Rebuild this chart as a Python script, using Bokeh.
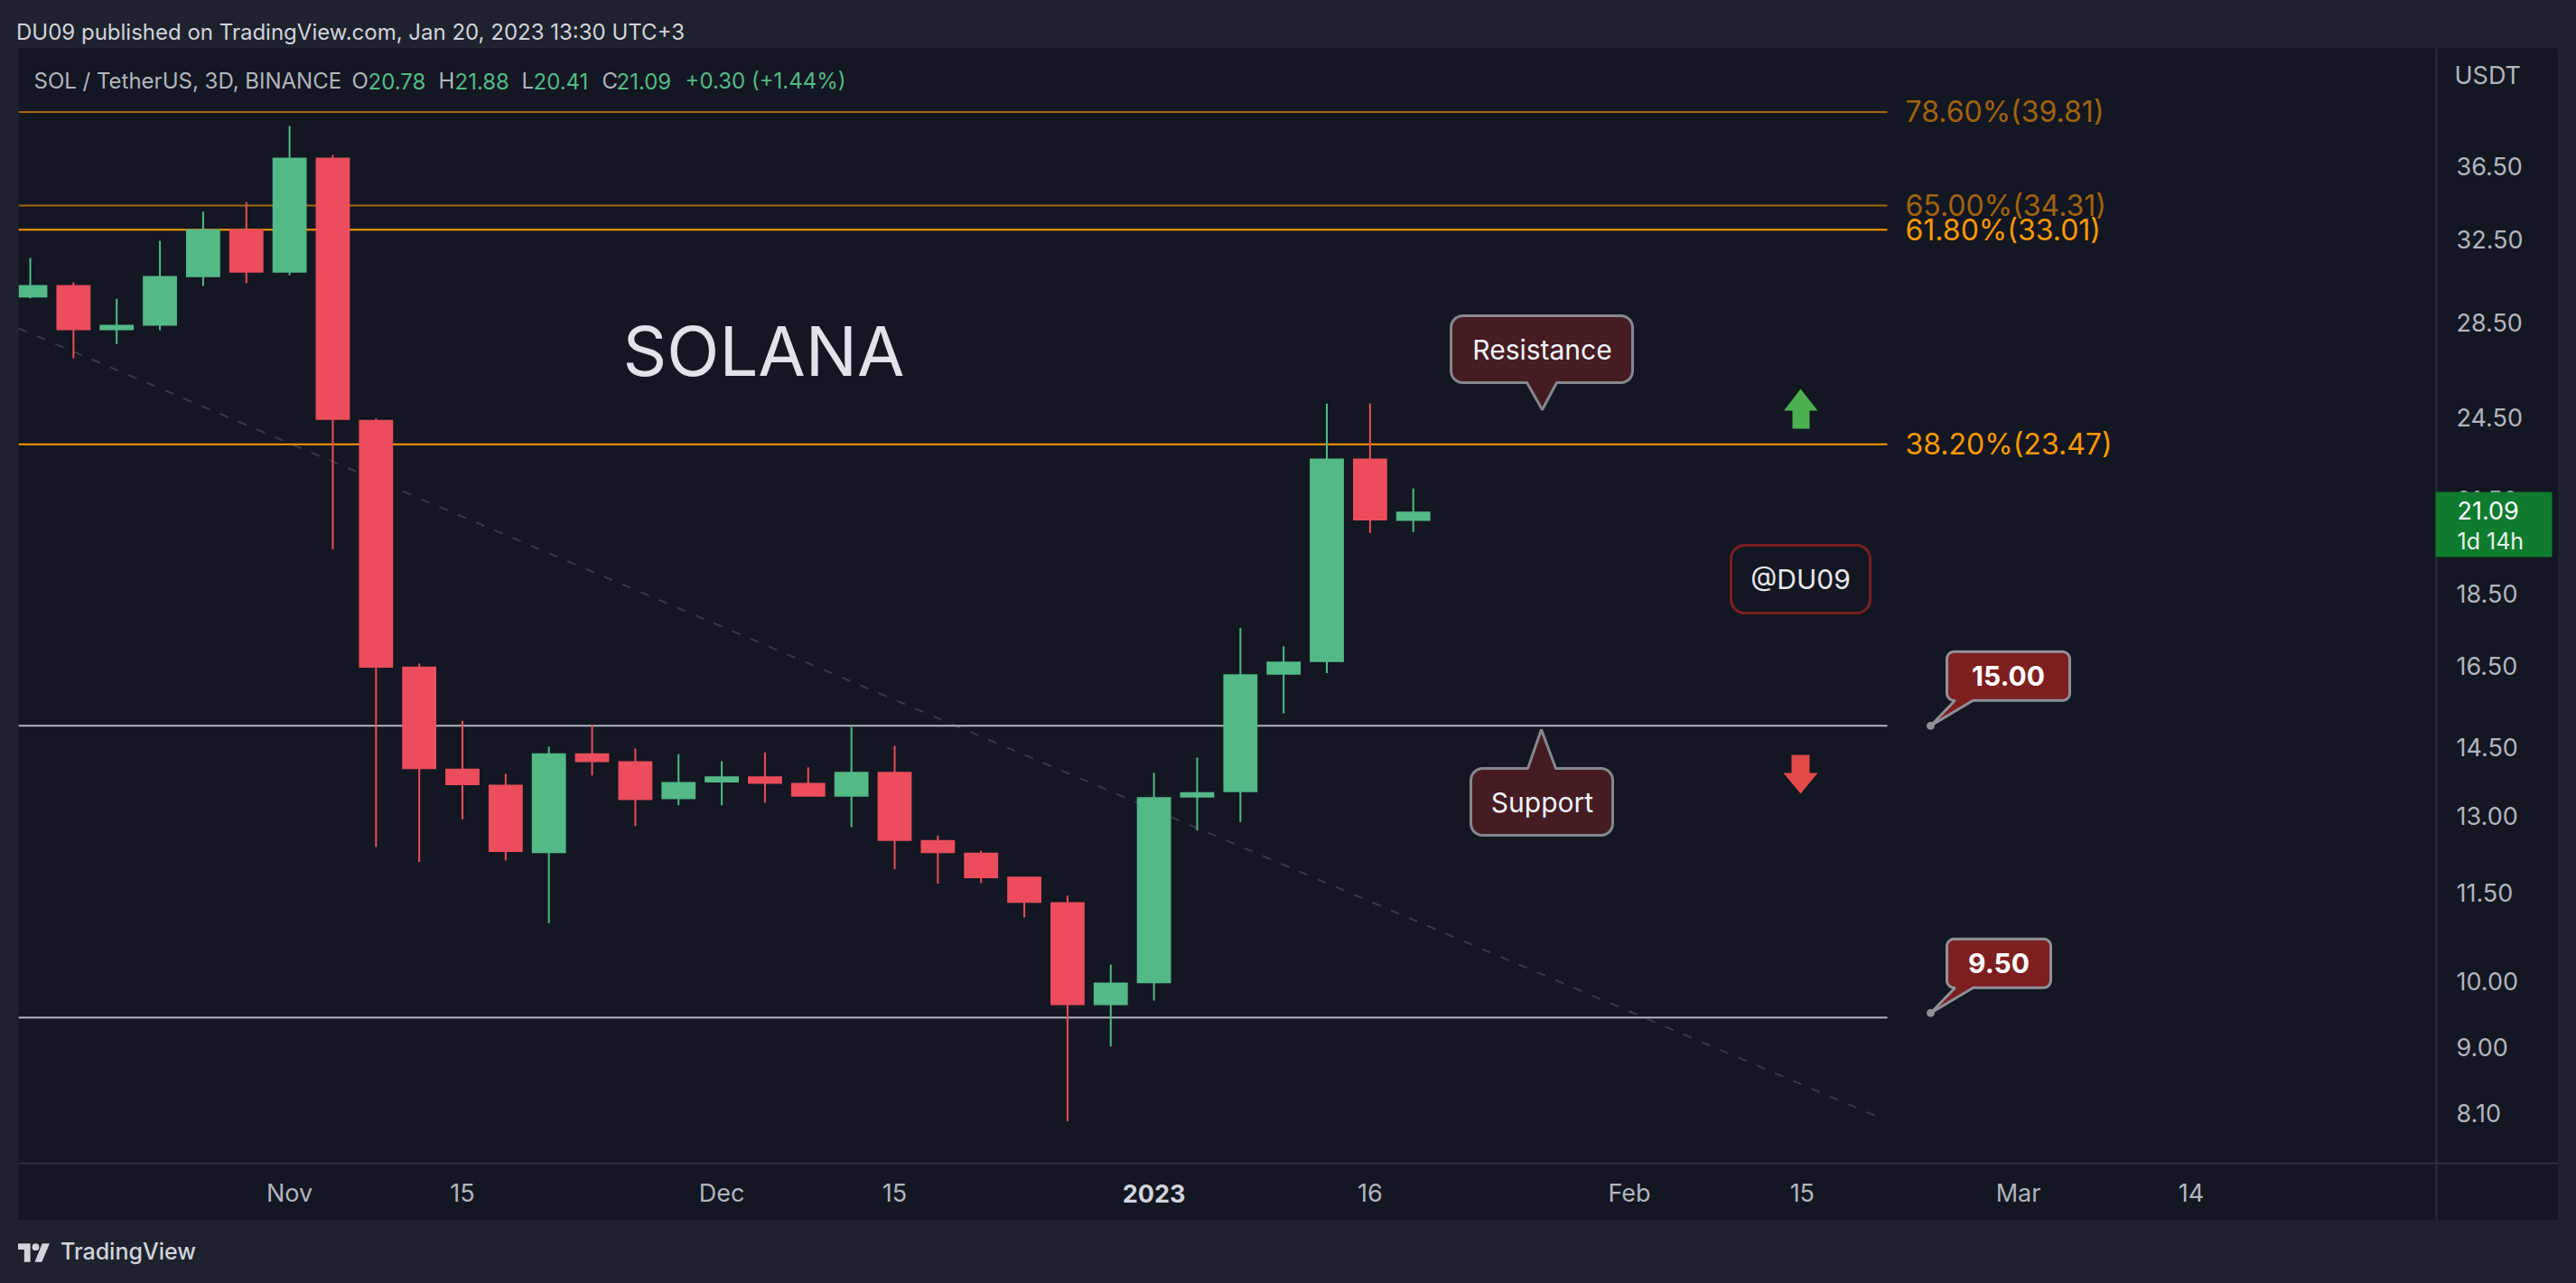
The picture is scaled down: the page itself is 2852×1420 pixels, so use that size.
import math
from bokeh.plotting import figure
from bokeh.models import (Range1d, FixedTicker, PrintfTickFormatter, Label,
                          BoxAnnotation, Div, Spacer, ColumnDataSource)
from bokeh.layouts import column, row
from bokeh.embed import file_html
from bokeh.resources import INLINE

# ---------------- data (SOL/USDT, 3D bars) ----------------
bar_index = list(range(33))
opens = [29.64, 30.23, 28.14, 28.34, 30.62, 33.04, 30.84, 37.02, 24.40, 16.48, 14.01,
         13.66, 12.25, 14.36, 14.18, 13.35, 13.71, 13.84, 13.70, 13.40, 13.94, 12.51,
         12.26, 11.80, 11.33, 9.62, 9.96, 13.38, 13.50, 16.27, 16.60, 22.94, 20.78]
highs = [31.56, 30.36, 29.58, 32.44, 33.97, 34.49, 38.93, 37.18, 24.45, 16.56, 15.12,
         13.90, 14.51, 15.02, 14.47, 14.34, 14.18, 14.38, 14.04, 14.97, 14.53, 12.60,
         12.30, 11.80, 11.45, 10.26, 13.92, 14.26, 17.52, 17.02, 25.04, 25.04, 21.88]
lows = [29.60, 26.91, 27.53, 28.14, 30.19, 30.33, 30.71, 19.85, 12.37, 12.08, 12.93,
        12.11, 10.96, 13.86, 12.79, 13.22, 13.22, 13.27, 13.40, 12.77, 11.94, 11.67,
        11.68, 11.06, 8.00, 9.01, 9.69, 12.70, 12.87, 15.30, 16.31, 20.38, 20.41]
closes = [30.23, 28.14, 28.38, 30.67, 33.04, 30.84, 37.02, 24.40, 16.45, 14.00, 13.65,
          12.27, 14.36, 14.16, 13.33, 13.72, 13.84, 13.68, 13.40, 13.94, 12.49, 12.25,
          11.77, 11.32, 9.62, 9.97, 13.39, 13.50, 16.28, 16.61, 22.94, 20.79, 21.09]

time_tick_index = [6, 10, 16, 20, 26, 31, 37, 41, 46, 50]
time_tick_labels = ["Nov", "15", "Dec", "15", "2023", "16", "Feb", "15", "Mar", "14"]
price_ticks = [8.10, 9.00, 10.00, 11.50, 13.00, 14.50, 16.50, 18.50, 21.50, 24.50,
               28.50, 32.50, 36.50]

fib_pct = ["78.60%", "65.00%", "61.80%", "38.20%"]
fib_val = [39.81, 34.31, 33.01, 23.47]
fib_alpha = [0.62, 0.62, 1.0, 1.0]

support_line_val = [15.00, 9.43]
support_label_val = [15.00, 9.50]
support_label_txt = ["15.00", "9.50"]

trend_x = [-0.27, 42.9]
trend_y = [28.22, 8.02]

last_price = "21.09"
countdown = "1d 14h"

# ---------------- geometry helpers (page px -> data) ----------------
BAR0_PX, BAR_STEP = 33.0, 47.85
Y_LN0, Y_PX_PER_LN = 2687.6, 696.0


def dx(px):
    return (px - BAR0_PX) / BAR_STEP


def dy(py):
    return math.exp((Y_LN0 - py) / Y_PX_PER_LN)


def py_of(price):
    return Y_LN0 - Y_PX_PER_LN * math.log(price)


PL, PR, PT, PB = 20, 2832, 53, 1350     # chart pane in page px
AX_X, AX_Y = 2697, 1287                # price-scale / time-scale separators

BG = "#131722"
GRID = "#2a2e39"
TXT = "#b2b5be"
UP = "#53b987"
DOWN = "#eb4d5c"
FONT = "Inter"

p = figure(width=PR - PL, height=PB - PT,
           x_range=Range1d(dx(PL), dx(PR)), y_range=Range1d(dy(PB), dy(PT)),
           y_axis_type="log", y_axis_location="right",
           toolbar_location=None, output_backend="svg",
           min_border_left=0, min_border_top=0, min_border_right=0, min_border_bottom=0,
           background_fill_color=BG, border_fill_color=BG, outline_line_color=None)
p.grid.grid_line_color = None

# axes (kept inside the pane, as in the trading terminal)
ya = p.yaxis[0]
ya.fixed_location = dx(AX_X)
ya.ticker = FixedTicker(ticks=price_ticks)
ya.formatter = PrintfTickFormatter(format="%.2f")
xa = p.xaxis[0]
xa.fixed_location = dy(AX_Y)
xa.ticker = FixedTicker(ticks=time_tick_index)
xa.major_label_overrides = {i: (l if l != "2023" else "") for i, l in zip(time_tick_index, time_tick_labels)}
for ax in (xa, ya):
    ax.axis_line_color = GRID
    ax.axis_line_width = 2
    ax.major_tick_line_color = None
    ax.minor_tick_line_color = None
    ax.major_tick_out = 0
    ax.major_tick_in = 0
    ax.major_label_text_font = FONT
    ax.major_label_text_color = TXT
ya.major_label_text_font_size = "27px"
ya.major_label_standoff = 22
xa.major_label_text_font_size = "27px"
xa.major_label_standoff = 16

# trendline
p.line(trend_x, trend_y, line_color="#363a45", line_width=2, line_dash="10 12")

# fib lines
for val, a in zip(fib_val, fib_alpha):
    p.segment(x0=[dx(PL)], y0=[val], x1=[dx(2089)], y1=[val],
              line_color="#ff9800", line_alpha=a, line_width=2)
# support lines
for val in support_line_val:
    p.segment(x0=[dx(PL)], y0=[val], x1=[dx(2089)], y1=[val],
              line_color="#b2b5be", line_width=2)

# candles
colors = [UP if c >= o else DOWN for o, c in zip(opens, closes)]
src = ColumnDataSource(dict(
    x=bar_index, o=opens, h=highs, l=lows, c=closes,
    top=[max(o, c) for o, c in zip(opens, closes)],
    bot=[min(o, c) for o, c in zip(opens, closes)],
    col=colors))
p.segment(x0="x", y0="l", x1="x", y1="h", line_color="col", line_width=2, source=src)
p.vbar(x="x", width=0.79, top="top", bottom="bot", fill_color="col", line_color=None, source=src)


def lab(px, pyy, text, size, color, align="left", style="normal", alpha=1.0, y=None):
    p.add_layout(Label(x=dx(px), y=(dy(pyy) if y is None else y), text=text,
                       text_font=FONT, text_font_size=size, text_color=color,
                       text_align=align, text_baseline="middle",
                       text_font_style=style, text_alpha=alpha))


# legend line
lab(37, 89, "SOL / TetherUS, 3D, BINANCE", "24px", TXT)
lab(389, 89, "O", "24px", TXT)
lab(407, 89, f"{opens[-1]:.2f}", "24px", UP)
lab(485, 89, "H", "24px", TXT)
lab(503, 89, f"{highs[-1]:.2f}", "24px", UP)
lab(577, 89, "L", "24px", TXT)
lab(590, 89, f"{lows[-1]:.2f}", "24px", UP)
lab(666, 89, "C", "24px", TXT)
lab(682, 89, f"{closes[-1]:.2f}", "24px", UP)
chg = closes[-1] - closes[-2]
lab(758, 89, f"+{chg:.2f} (+{chg / closes[-2] * 100:.2f}%)", "24px", UP)

# SOLANA
lab(845, 387, "SOLANA", "76px", "#e0e3eb", align="center")

# fib labels
for pct, val, a in zip(fib_pct, fib_val, fib_alpha):
    lab(2109, 0, f"{pct}({val:.2f})", "32px", "#ff9800", alpha=a, y=val)


def callout(x0, y0, x1, y1, r, ptr=None):
    pts = []

    def arc(cx, cy, a0, a1, n=8):
        for k in range(n + 1):
            a = math.radians(a0 + (a1 - a0) * k / n)
            pts.append((cx + r * math.cos(a), cy + r * math.sin(a)))
    arc(x0 + r, y0 + r, 180, 270)
    if ptr and ptr[0] == "top":
        _, bx0, bx1, tx, ty = ptr
        pts.extend([(bx0, y0), (tx, ty), (bx1, y0)])
    arc(x1 - r, y0 + r, 270, 360)
    arc(x1 - r, y1 - r, 0, 90)
    if ptr and ptr[0] == "bottom":
        _, bx0, bx1, tx, ty = ptr
        pts.extend([(bx1, y1), (tx, ty), (bx0, y1)])
    arc(x0 + r, y1 - r, 90, 180)
    return [dx(a) for a, b in pts], [dy(b) for a, b in pts]


# Resistance / Support callouts
xs, ys = callout(1606, 349, 1807, 423, 13, ("bottom", 1690, 1723, 1707, 453))
p.patch(xs, ys, fill_color="#451c21", line_color="#85878f", line_width=3)
lab(1707, 386, "Resistance", "30px", "#f0f3fa", align="center")
xs, ys = callout(1628, 850, 1785, 924, 13, ("top", 1691, 1722, 1706, 807))
p.patch(xs, ys, fill_color="#451c21", line_color="#85878f", line_width=3)
lab(1707, 887, "Support", "30px", "#f0f3fa", align="center")

# @DU09
xs, ys = callout(1916, 603, 2070, 678, 15)
p.patch(xs, ys, fill_color=BG, line_color="#7b1f1f", line_width=3)
lab(1993, 640, "@DU09", "30px", "#e8e8ea", align="center")

# price-level labels
for val, txt, x1 in zip(support_label_val, support_label_txt, [2291, 2270]):
    ty = py_of(val)
    y1 = ty - 28
    y0 = y1 - 54
    xs, ys = callout(2155, y0, x1, y1, 8, ("bottom", 2164, 2184, 2137, ty))
    p.patch(xs, ys, fill_color="#7d1f1f", line_color="#8d9099", line_width=3)
    p.scatter(x=[dx(2137)], y=[val], size=8, color="#8d9099")
    lab((2155 + x1) / 2, (y0 + y1) / 2, txt, "30px", "#ffffff", align="center", style="bold")

# arrows
up = [(1993, 430), (2012, 454), (2003, 454), (2003, 474), (1984, 474), (1984, 454), (1974.5, 454)]
p.patch([dx(a) for a, b in up], [dy(b) for a, b in up], fill_color="#4caf50", line_color=None)
dn = [(1983, 835), (2003, 835), (2003, 855), (2012, 855), (1993, 878), (1974, 855), (1983, 855)]
p.patch([dx(a) for a, b in dn], [dy(b) for a, b in dn], fill_color="#e24a4a", line_color=None)

# price-scale items: current price tag, currency, bold year label
p.add_layout(BoxAnnotation(left=dx(AX_X - 1), right=dx(2825), top=dy(544), bottom=dy(616),
                           fill_color="#0f7b2f", fill_alpha=1, line_color=None))
lab(2720, 564, last_price, "27px", "#ffffff")
lab(2720, 598, countdown, "25px", "#e6f2e9")
lab(2717, 83, "USDT", "27px", TXT)
lab(BAR0_PX + BAR_STEP * time_tick_index[4], 1320, time_tick_labels[4], "27px", "#d1d4dc",
    align="center", style="bold")

header = Div(text=('<div style="position:relative;top:13px;font-family:Inter;font-size:24px;'
                   'color:#d1d4dc;white-space:nowrap;padding-left:18px;line-height:45px;">'
                   'DU09 published on TradingView.com, Jan 20, 2023 13:30 UTC+3</div>'),
             width=2852, height=53, margin=(0, 0, 0, 0))
logo = ('<svg width="35" height="22" viewBox="0 0 36 22">'
        '<path d="M14 22H7V8H0V1h14z" fill="#d1d4dc"/>'
        '<circle cx="20" cy="5" r="4" fill="#d1d4dc"/>'
        '<path d="M27 22h-8L27.5 1H36z" fill="#d1d4dc"/></svg>')
footer = Div(text=('<div style="display:flex;align-items:center;height:62px;padding-left:20px;'
                   'position:relative;top:5px;font-family:Inter;font-size:25px;color:#d1d4dc;'
                   'font-weight:500;">' + logo +
                   '<span style="margin-left:12px">TradingView</span></div>'),
             width=2852, height=70, margin=(0, 0, 0, 0))

layout = column(header, row(Spacer(width=PL, height=PB - PT), p), footer)

html = file_html(layout, INLINE, title="SOL / TetherUS")
html = html.replace("</head>", "<style>html,body{background:#1e222d;}</style></head>", 1)
open("out.html", "w").write(html)
